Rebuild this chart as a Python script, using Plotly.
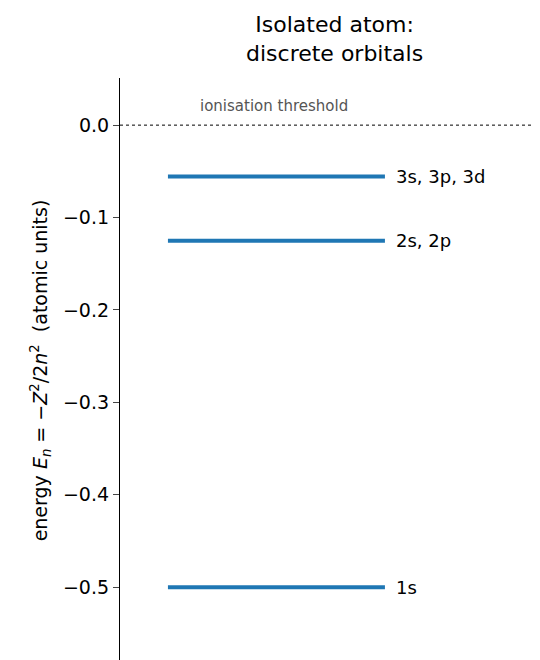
import plotly.graph_objects as go

levels = [-0.5, -0.125, -1/18]
labels = ["1s", "2s, 2p", "3s, 3p, 3d"]
x0, x1, xlab = 0.112, 0.619, 0.64

fig = go.Figure()
for e, lab in zip(levels, labels):
    fig.add_trace(go.Scatter(x=[x0, x1], y=[e, e], mode="lines",
                             line=dict(color="#1f77b4", width=4), showlegend=False, hoverinfo="skip"))
    fig.add_annotation(x=xlab, y=e, text=lab, showarrow=False, xanchor="left",
                       font=dict(size=18, color="black"))
fig.add_shape(type="line", xref="paper", x0=0, x1=1, y0=0, y1=0,
              line=dict(color="black", width=1, dash="dot"))
fig.add_annotation(x=0.36, y=0.0, yshift=19, text="ionisation threshold", showarrow=False,
                   font=dict(size=15, color="#555555"))
fig.add_annotation(xref="paper", yref="paper", x=0.5, y=1.0, yshift=10, xanchor="center",
                   yanchor="bottom", showarrow=False,
                   text="Isolated atom:<br>discrete orbitals", font=dict(size=22, color="black"))
fig.update_layout(
    width=540, height=660, plot_bgcolor="white", paper_bgcolor="white",
    margin=dict(l=112, r=0, t=70, b=5, autoexpand=False),
    font=dict(family="DejaVu Sans", color="black"),
    xaxis=dict(range=[0, 1], visible=False),
    yaxis=dict(range=[-0.582, 0.051], tickvals=[0, -0.1, -0.2, -0.3, -0.4, -0.5],
               ticktext=["0.0", "−0.1", "−0.2", "−0.3", "−0.4", "−0.5"], automargin=False,
               showgrid=False, zeroline=False, showline=True, linecolor="black", linewidth=1.2,
               ticks="outside", ticklen=6, tickfont=dict(size=19),
               title=dict(text="energy <i>E<sub>n</sub></i> = −<i>Z</i><sup>2</sup>/2<i>n</i><sup>2</sup>  (atomic units)",
                          font=dict(size=19), standoff=10)),
)
fig.write_html("out.html")
